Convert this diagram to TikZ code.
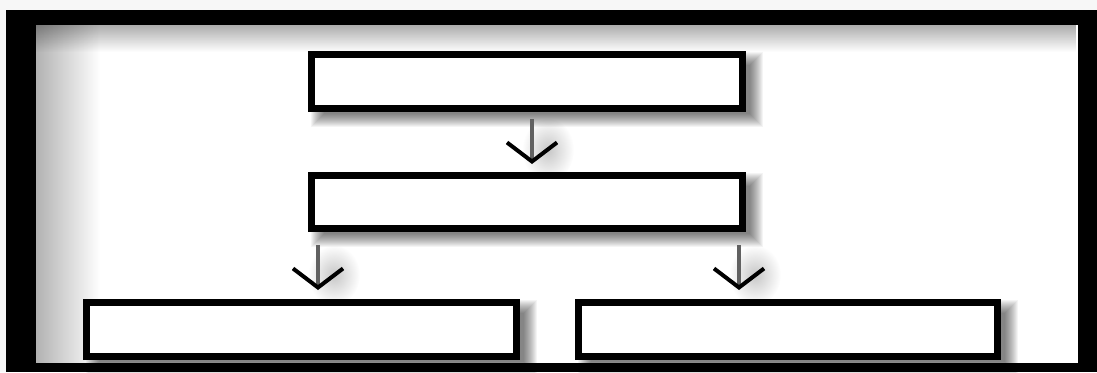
\documentclass[tikz,border=0pt]{standalone}
\usetikzlibrary{arrows.meta,fadings}
\tikzfading[name=softglow, inner color=transparent!0, outer color=transparent!100]
\tikzset{
  boxnode/.style={draw=black, line width=7pt, fill=white, inner sep=0pt,
    minimum width=#1, minimum height=54pt},
  arr/.style={draw=black!62, line width=3.5pt,
    -{Straight Barb[length=19pt,width=50pt,line width=4pt,color=black]}},
  shadowlayer/.style={fill=black, opacity=0.045},
  glow/.style={fill=black, opacity=0.22, path fading=softglow},
}
\newcommand{\softshadow}[4]{%
  \foreach \k in {0,...,13}{%
    \fill[shadowlayer] (#1+16-\k, #2+14-\k) rectangle (#3+4+\k, #4+2+\k);
  }%
}
\begin{document}
\begin{tikzpicture}[x=1pt,y=-1pt]
\useasboundingbox (0,0) rectangle (1097,372);
% page and frame
\fill[black!3] (0,0) rectangle (1097,372);
\fill[black] (6,10) rectangle (1097,372);
\fill[white] (36,25) rectangle (1078,363);
\fill[black, opacity=0.32, path fading=south] (36,25) rectangle (1078,52);
\fill[black, opacity=0.30, path fading=east] (36,25) rectangle (100,363);
% shadows
\softshadow{308}{51}{746}{112}
\softshadow{308}{172}{746}{232}
\softshadow{83}{299}{520}{360}
\softshadow{575}{299}{1001}{360}
\fill[glow] (548,150) ellipse [x radius=26, y radius=32];
\fill[glow] (334,275) ellipse [x radius=26, y radius=30];
\fill[glow] (755,275) ellipse [x radius=26, y radius=30];
% boxes
\node[boxnode=431pt] (b1) at (527,81.5) {};
\node[boxnode=431pt, minimum height=53pt] (b2) at (527,202) {};
\node[boxnode=430pt] (b3) at (301.5,329.5) {};
\node[boxnode=419pt] (b4) at (788,329.5) {};
% arrows
\coordinate (ax1) at (532,0);
\coordinate (ax2) at (318,0);
\coordinate (ax3) at (739,0);
\draw[arr, shorten <=7pt, shorten >=8pt] (b1.south -| ax1) -- (b2.north -| ax1);
\draw[arr, shorten <=13pt, shorten >=9pt] (b2.south -| ax2) -- (b3.north -| ax2);
\draw[arr, shorten <=13pt, shorten >=9pt] (b2.south -| ax3) -- (b4.north -| ax3);
\end{tikzpicture}
\end{document}
